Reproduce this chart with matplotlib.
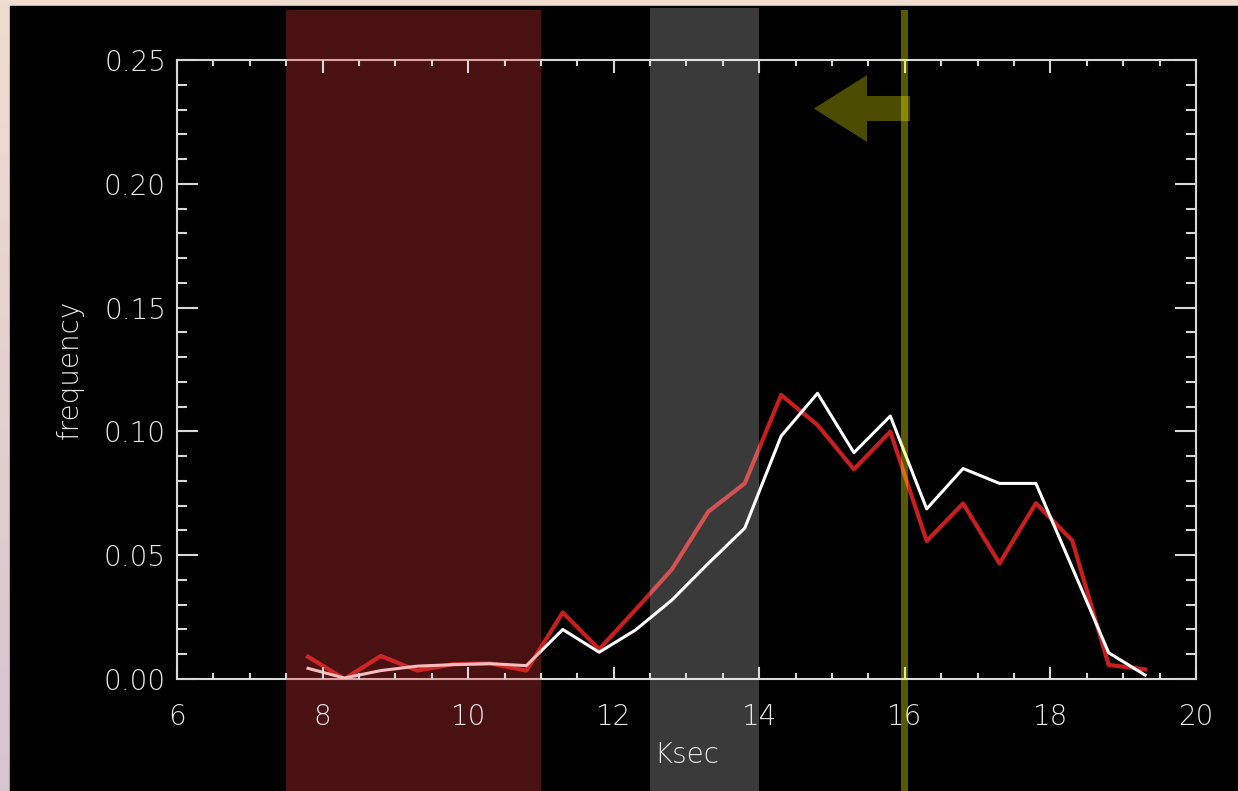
import numpy as np
import matplotlib
matplotlib.use("Agg")
import matplotlib.pyplot as plt
from matplotlib.patches import Rectangle
from matplotlib.transforms import blended_transform_factory
from matplotlib.ticker import MultipleLocator

# bin centres (Ksec) and the two frequency distributions
ksec = [7.8, 8.3, 8.8, 9.3, 9.8, 10.3, 10.8, 11.3, 11.8, 12.3, 12.8, 13.3,
        13.8, 14.3, 14.8, 15.3, 15.8, 16.3, 16.8, 17.3, 17.8, 18.3, 18.8, 19.3]
freq_white = [0.0043, 0.0004, 0.0034, 0.0052, 0.0058, 0.0062, 0.0054, 0.0200,
              0.0108, 0.0198, 0.0319, 0.0467, 0.0609, 0.0981, 0.1154, 0.0914,
              0.1062, 0.0687, 0.0850, 0.0790, 0.0790, 0.0450, 0.0106, 0.0016]
freq_red = [0.0090, 0.0000, 0.0093, 0.0034, 0.0060, 0.0063, 0.0034, 0.0269,
            0.0120, 0.0280, 0.0443, 0.0676, 0.0790, 0.1147, 0.1026, 0.0847,
            0.0999, 0.0557, 0.0709, 0.0467, 0.0710, 0.0559, 0.0057, 0.0039]

# shaded intervals and marker position
red_span = (7.5, 11.0)
gray_span = (12.5, 14.0)
marker_x = 16.0

W, H = 1238, 791
fig = plt.figure(figsize=(W / 100, H / 100), dpi=100)

# pale gradient frame with a black panel on top
bg = fig.add_axes([0, 0, 1, 1], zorder=-1)
bg.set_axis_off()
top_col = np.array([240, 221, 208]) / 255
bot_col = np.array([214, 196, 207]) / 255
t = np.linspace(0, 1, 256)[:, None]
grad = (top_col * (1 - t) + bot_col * t)[:, None, :]
bg.imshow(grad, aspect="auto", extent=[0, 1, 0, 1], origin="upper")
bg.add_patch(Rectangle((10 / W, 0), 1, 1 - 6 / H, color="black"))
bg.set_xlim(0, 1)
bg.set_ylim(0, 1)

fg = "#e8e8e8"
font = dict(family="DejaVu Sans", weight="light", size=20, color=fg)

ax = fig.add_axes([177 / W, 1 - 679 / H, 1019 / W, 619 / H])
ax.set_facecolor("none")
ax.plot(ksec, freq_red, color="#c81e1e", lw=3.0, zorder=2)
ax.plot(ksec, freq_white, color="white", lw=2.2, zorder=3)

ax.set_xlim(6, 20)
ax.set_ylim(0, 0.25)
ax.xaxis.set_major_locator(MultipleLocator(2))
ax.xaxis.set_minor_locator(MultipleLocator(0.5))
ax.yaxis.set_major_locator(MultipleLocator(0.05))
ax.yaxis.set_minor_locator(MultipleLocator(0.01))
ax.yaxis.set_major_formatter(plt.FuncFormatter(lambda v, p: f"{v:.2f}"))

for s in ax.spines.values():
    s.set_color("#d8d8d8")
    s.set_linewidth(1.5)
ax.tick_params(which="both", direction="in", top=True, right=True,
               color="#d8d8d8", width=1.5, labelcolor=fg, labelsize=20)
ax.tick_params(axis="x", which="major", length=9, pad=17)
ax.tick_params(axis="x", which="minor", length=4.5)
ax.tick_params(axis="y", which="major", length=15, pad=8)
ax.tick_params(axis="y", which="minor", length=7.5)
for lab in ax.get_xticklabels() + ax.get_yticklabels():
    lab.set_fontweight("light")
# keep the x tick labels above the shaded bands
ax.xaxis.set_zorder(6)

ax.set_xlabel("Ksec", **font)
ax.set_ylabel("frequency", **font)
ax.xaxis.label.set_va("center")
ax.yaxis.label.set_va("center")
ax.xaxis.set_label_coords(0.5, (679 - 755) / 619)
ax.yaxis.set_label_coords((70 - 177) / 1019, 0.5)

# vertical bands running over the full panel height
trans = blended_transform_factory(ax.transData, fig.transFigure)
ax.add_patch(Rectangle((red_span[0], 0), red_span[1] - red_span[0], 1 - 10 / H,
                       transform=trans, facecolor="#e03535", alpha=0.33,
                       lw=0, clip_on=False, zorder=5))
ax.add_patch(Rectangle((gray_span[0], 0), gray_span[1] - gray_span[0], 1 - 8 / H,
                       transform=trans, facecolor="white", alpha=0.23,
                       lw=0, clip_on=False, zorder=5))
ax.add_patch(Rectangle((marker_x - 0.05, 0), 0.1, 1 - 10 / H,
                       transform=trans, facecolor="yellow", alpha=0.35,
                       lw=0, clip_on=False, zorder=7))

# arrow pointing left from the marker
ax.arrow(16.07, 0.2304, -1.32, 0, width=0.0101, head_width=0.027,
         head_length=0.73, length_includes_head=True,
         facecolor="yellow", alpha=0.3, lw=0, zorder=8)

fig.savefig("out.png", dpi=100, facecolor="black")
